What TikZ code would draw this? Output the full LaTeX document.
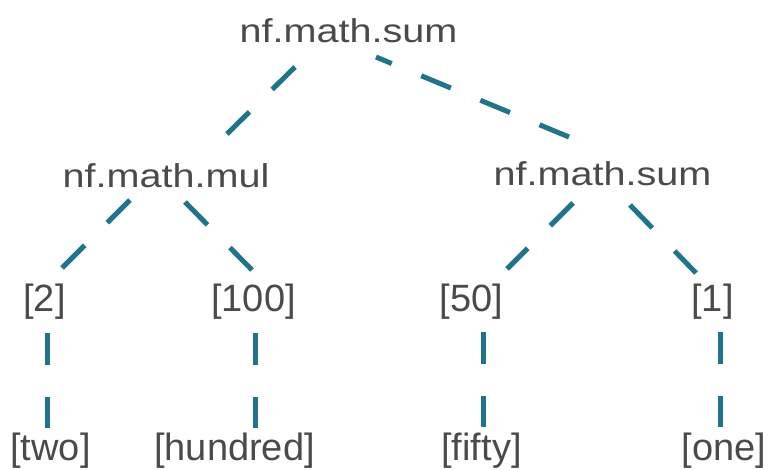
\documentclass[tikz,border=0pt]{standalone}
\usepackage{fontspec}
\setmainfont{Liberation Sans}
\definecolor{edgecol}{HTML}{1F7489}
\definecolor{txtcol}{HTML}{4A4A4A}
\begin{document}
\begin{tikzpicture}[x=1pt,y=-1pt,
  inner/.style={anchor=base,inner sep=0pt,text=txtcol,font=\fontsize{33}{40}\selectfont},
  leaf/.style={anchor=base,inner sep=0pt,text=txtcol,font=\fontsize{38}{44}\selectfont},
  edge/.style={draw=edgecol,line width=5pt,dash pattern=on 32pt off 32pt}]
\useasboundingbox[fill=white] (0,0) rectangle (769,469);
\newcommand{\wide}[1]{\scalebox{1.2}[1]{#1}}
\node[inner] (root) at (348.5,42) {\wide{nf.math.sum}};
\node[inner] (mul) at (166,187) {\wide{nf.math.mul}};
\node[inner] (sum2) at (602.5,185) {\wide{nf.math.sum}};
\node[leaf] (l2) at (44.5,311) {[2]};
\node[leaf] (l100) at (253.5,311) {[100]};
\node[leaf] (l50) at (471.5,311) {[50]};
\node[leaf] (l1) at (712.5,311) {[1]};
\node[leaf] (two) at (50.5,460) {[two]};
\node[leaf] (hundred) at (234.5,460) {[hundred]};
\node[leaf] (fifty) at (481.5,460) {[fifty]};
\node[leaf] (one) at (724,460) {[one]};
\draw[edge] ([shift={(-53.5,25)}]root.base) -- ([shift={(61,-53)}]mul.base);
\draw[edge,dash phase=15pt] ([shift={(27.5,15)}]root.base) -- ([shift={(-33.5,-48)}]sum2.base);
\draw[edge] ([shift={(-36,13)}]mul.base) -- ([shift={(17.5,-43)}]l2.base);
\draw[edge] ([shift={(19,15)}]mul.base) -- ([shift={(-1.5,-41)}]l100.base);
\draw[edge] ([shift={(-29.5,18)}]sum2.base) -- ([shift={(35.5,-42)}]l50.base);
\draw[edge] ([shift={(27.5,20)}]sum2.base) -- ([shift={(-16.5,-38)}]l1.base);
\draw[edge] ([shift={(2.5,22)}]l2.base) -- ([shift={(-3.5,-32)}]two.base);
\draw[edge] ([shift={(1.5,22)}]l100.base) -- ([shift={(20.5,-32)}]hundred.base);
\draw[edge] ([shift={(11.5,21)}]l50.base) -- ([shift={(1.5,-33)}]fifty.base);
\draw[edge] ([shift={(7.5,21)}]l1.base) -- ([shift={(-4,-33)}]one.base);
\end{tikzpicture}
\end{document}
